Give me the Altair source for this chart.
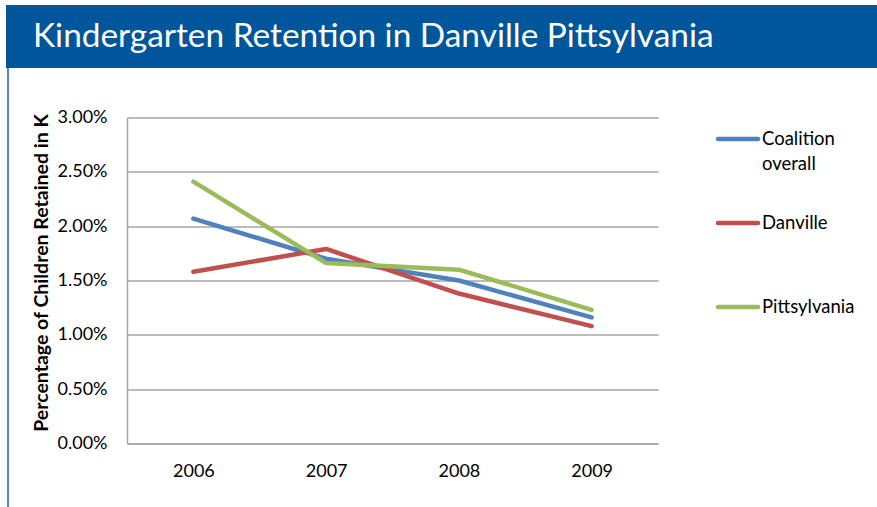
import altair as alt
import pandas as pd

years = ["2006", "2007", "2008", "2009"]
series_names = ["Coalition overall", "Danville", "Pittsylvania"]
coalition = [0.0207, 0.0170, 0.0150, 0.0116]
danville = [0.0158, 0.0179, 0.0138, 0.0108]
pittsylvania = [0.0241, 0.0166, 0.0160, 0.0123]
colors = ["#4F81BD", "#C0504D", "#9BBB59"]
y_ticks = [0, 0.005, 0.01, 0.015, 0.02, 0.025, 0.03]
legend_texts = ["Coalition\noverall", "Danville", "Pittsylvania"]
title_text = "Kindergarten Retention in Danville Pittsylvania"
y_title = "Percentage of Children Retained in K"

rows = []
for name, vals in zip(series_names, [coalition, danville, pittsylvania]):
    for yr, v in zip(years, vals):
        rows.append({"year": yr, "series": name, "value": v})
df = pd.DataFrame(rows)
leg_df = pd.DataFrame({"series": series_names, "order": [0, 1, 2], "label": legend_texts})
one = pd.DataFrame({"a": [0]})

W, H = 531, 326
PL, PT = 127, 117.5
FONT = "Lato"

color_scale = alt.Scale(domain=series_names, range=colors)

header = alt.Chart(one).mark_rect(color="#00569A").encode(
    x=alt.value(6 - PL), x2=alt.value(877 - PL),
    y=alt.value(5 - PT), y2=alt.value(68 - PT))
border = alt.Chart(one).mark_rule(color="#2B5F9E", strokeWidth=1.5).encode(
    x=alt.value(8 - PL), y=alt.value(68 - PT), y2=alt.value(507 - PT))
title = alt.Chart(one).mark_text(
    text=title_text, color="white", font=FONT, fontSize=33.4,
    align="left", baseline="alphabetic").encode(
    x=alt.value(33 - PL), y=alt.value(47 - PT))

lines = alt.Chart(df).mark_line(strokeWidth=4.5, strokeCap="round", strokeJoin="round").encode(
    x=alt.X("year:O", sort=years, scale=alt.Scale(type="point", padding=0.5),
            axis=alt.Axis(title=None, labelAngle=0, ticks=False, domain=True,
                          domainColor="#A6A6A6", domainWidth=1.5, grid=False,
                          labelPadding=19, labelFontSize=18, labelFont=FONT,
                          labelColor="black")),
    y=alt.Y("value:Q", scale=alt.Scale(domain=[0, 0.03], nice=False),
            axis=alt.Axis(values=y_ticks, format=".2%", title=y_title,
                          titleFont=FONT, titleFontSize=19.5, titleFontWeight="bold",
                          titleColor="black", titleAngle=270, titleX=-86, titleY=H / 2 - 8,
                          titleAlign="center", titleBaseline="middle",
                          labelFont=FONT, labelFontSize=18, labelColor="black",
                          labelPadding=20, ticks=False, grid=True, gridColor="#A6A6A6",
                          gridWidth=1.5, domain=True, domainColor="#A6A6A6",
                          domainWidth=1.5)),
    color=alt.Color("series:N", scale=color_scale, legend=None),
    detail="series:N",
)

leg_y = alt.Y("order:O", scale=alt.Scale(type="point", domain=[0, 1, 2],
                                          range=[139 - PT, 307 - PT], padding=0),
              axis=None)
leg_rules = alt.Chart(leg_df).mark_rule(strokeWidth=4.5, strokeCap="round").encode(
    x=alt.value(718 - PL), x2=alt.value(758 - PL), y=leg_y,
    color=alt.Color("series:N", scale=color_scale, legend=None))
leg_text = alt.Chart(leg_df).mark_text(
    align="left", baseline="middle", font=FONT, fontSize=18.5, color="black",
    lineBreak="\n", lineHeight=25).encode(
    x=alt.value(762 - PL), y=leg_y, text="label:N")

legend = alt.layer(leg_rules, leg_text)

chart = alt.layer(header, border, title, lines, legend).resolve_scale(
    y="independent").properties(
    width=W, height=H,
    autosize=alt.AutoSizeParams(type="none"),
    padding={"left": PL, "top": PT, "right": 877 - PL - W, "bottom": 507 - PT - H},
    background="white",
).configure_view(stroke=None)

chart.save("out.html", embed_options={"renderer": "svg", "actions": False})
